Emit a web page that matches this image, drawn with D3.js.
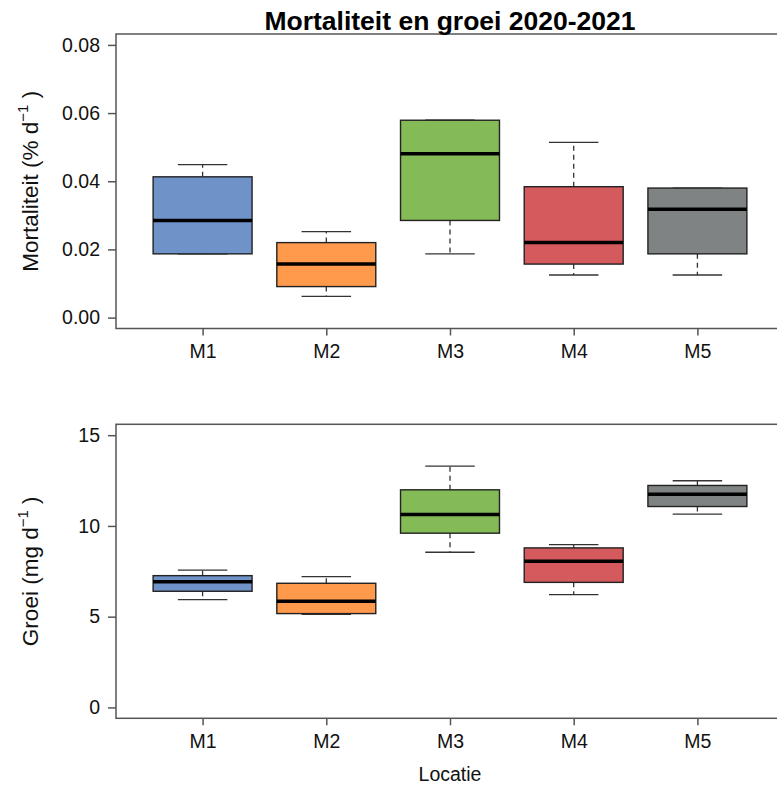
<!DOCTYPE html>
<html>
<head>
<script src="https://d3js.org/d3.v7.min.js"></script>
<style>
  body { margin: 0; background: #fff; }
  svg { font-family: Arial, "Liberation Sans", sans-serif; }
</style>
</head>
<body>
<div id="chart"></div>
<script>
// locations
const locaties = ["M1", "M2", "M3", "M4", "M5"];
const kleuren = ["#6f92c8", "#ff9a4c", "#84bb57", "#d55a5e", "#7f8384"];

// mortaliteit (% d-1): whisker low, Q1, median, Q3, whisker high
const mortLow = [0.0187, 0.0062, 0.0187, 0.0125, 0.0125];
const mortQ1 = [0.0187, 0.0091, 0.0285, 0.0157, 0.0187];
const mortMed = [0.0285, 0.0157, 0.0481, 0.0220, 0.0318];
const mortQ3 = [0.0413, 0.0220, 0.0579, 0.0384, 0.0380];
const mortHigh = [0.0449, 0.0252, 0.0579, 0.0514, 0.0380];
const mortTicks = [0, 0.02, 0.04, 0.06, 0.08];

// groei (mg d-1)
const groeiLow = [5.94, 5.13, 8.55, 6.22, 10.65];
const groeiQ1 = [6.40, 5.17, 9.60, 6.89, 11.07];
const groeiMed = [6.92, 5.85, 10.63, 8.05, 11.75];
const groeiQ3 = [7.26, 6.84, 11.99, 8.79, 12.23];
const groeiHigh = [7.56, 7.21, 13.29, 8.97, 12.49];
const groeiTicks = [0, 5, 10, 15];

const W = 777, H = 785;
const svg = d3.select("#chart").append("svg")
  .attr("width", W).attr("height", H);

// x positions 1..5 like R boxplot, xlim 0.5-5.5 extended 4%
const x = d3.scaleLinear().domain([0.3, 5.7]).range([116, 784]);
const boxW = 0.8;

function panel(opts) {
  const y = d3.scaleLinear().domain(opts.domain).range([opts.bottom, opts.top]);
  const g = svg.append("g");

  // plot frame (right edge falls outside the picture)
  g.append("rect")
    .attr("x", x.range()[0]).attr("y", opts.top)
    .attr("width", x.range()[1] - x.range()[0]).attr("height", opts.bottom - opts.top)
    .attr("fill", "none").attr("stroke", "#555").attr("stroke-width", 1.5);

  // y axis
  const yAxis = g.append("g")
    .attr("transform", "translate(116,0)")
    .call(d3.axisLeft(y).tickValues(opts.ticks).tickSize(8).tickPadding(8).tickFormat(opts.fmt));
  yAxis.select(".domain").remove();
  yAxis.selectAll("line").attr("stroke", "#555").attr("stroke-width", 1.5);
  yAxis.selectAll("text").attr("fill", "#111").style("font-size", "19.5px");

  // x axis
  const xAxis = g.append("g")
    .attr("transform", `translate(0,${opts.bottom})`)
    .call(d3.axisBottom(x).tickValues([1, 2, 3, 4, 5]).tickSize(7).tickPadding(9)
      .tickFormat((d, i) => locaties[i]));
  xAxis.select(".domain").remove();
  xAxis.selectAll("line").attr("stroke", "#555").attr("stroke-width", 1.5);
  xAxis.selectAll("text").attr("fill", "#111").style("font-size", "19.5px");

  const data = locaties.map((d, i) => ({
    i: i + 1, low: opts.low[i], q1: opts.q1[i], med: opts.med[i], q3: opts.q3[i], high: opts.high[i]
  }));

  const b = g.selectAll(".box").data(data).enter().append("g");

  // dashed whiskers
  b.append("line")
    .attr("x1", d => x(d.i)).attr("x2", d => x(d.i))
    .attr("y1", d => y(d.q3)).attr("y2", d => y(d.high))
    .attr("stroke", "#333").attr("stroke-width", 1.3).attr("stroke-dasharray", "5,4");
  b.append("line")
    .attr("x1", d => x(d.i)).attr("x2", d => x(d.i))
    .attr("y1", d => y(d.q1)).attr("y2", d => y(d.low))
    .attr("stroke", "#333").attr("stroke-width", 1.3).attr("stroke-dasharray", "5,4");
  // caps
  b.append("line")
    .attr("x1", d => x(d.i - boxW / 4)).attr("x2", d => x(d.i + boxW / 4))
    .attr("y1", d => y(d.high)).attr("y2", d => y(d.high))
    .attr("stroke", "#333").attr("stroke-width", 1.3);
  b.append("line")
    .attr("x1", d => x(d.i - boxW / 4)).attr("x2", d => x(d.i + boxW / 4))
    .attr("y1", d => y(d.low)).attr("y2", d => y(d.low))
    .attr("stroke", "#333").attr("stroke-width", 1.3);
  // box
  b.append("rect")
    .attr("x", d => x(d.i - boxW / 2)).attr("width", x(boxW) - x(0))
    .attr("y", d => y(d.q3)).attr("height", d => y(d.q1) - y(d.q3))
    .attr("fill", (d, i) => kleuren[i]).attr("stroke", "#222").attr("stroke-width", 1.4);
  // median
  b.append("line")
    .attr("x1", d => x(d.i - boxW / 2)).attr("x2", d => x(d.i + boxW / 2))
    .attr("y1", d => y(d.med)).attr("y2", d => y(d.med))
    .attr("stroke", "#000").attr("stroke-width", 3.5);

  // y label with superscript
  const mid = (opts.top + opts.bottom) / 2;
  const lab = g.append("text")
    .attr("transform", `translate(38,${mid}) rotate(-90)`)
    .attr("text-anchor", "middle")
    .attr("fill", "#111")
    .style("font-size", "22.5px");
  lab.append("tspan").text(opts.label + " d");
  lab.append("tspan").attr("dy", -10).style("font-size", "15px").text("\u22121");
  lab.append("tspan").attr("dy", 10).text(" )");
}

panel({
  top: 34, bottom: 328.5, domain: [-0.0032, 0.0832], ticks: mortTicks,
  fmt: d3.format(".2f"), label: "Mortaliteit (%",
  low: mortLow, q1: mortQ1, med: mortMed, q3: mortQ3, high: mortHigh
});

panel({
  top: 424.3, bottom: 718.3, domain: [-0.6, 15.6], ticks: groeiTicks,
  fmt: d3.format("d"), label: "Groei (mg",
  low: groeiLow, q1: groeiQ1, med: groeiMed, q3: groeiQ3, high: groeiHigh
});

// title
svg.append("text")
  .attr("x", 450).attr("y", 30)
  .attr("text-anchor", "middle")
  .attr("fill", "#000")
  .style("font-size", "26.5px").style("font-weight", "bold")
  .text("Mortaliteit en groei 2020-2021");

// x label
svg.append("text")
  .attr("x", 450).attr("y", 781)
  .attr("text-anchor", "middle")
  .attr("fill", "#111")
  .style("font-size", "19.5px")
  .text("Locatie");
</script>
</body>
</html>
